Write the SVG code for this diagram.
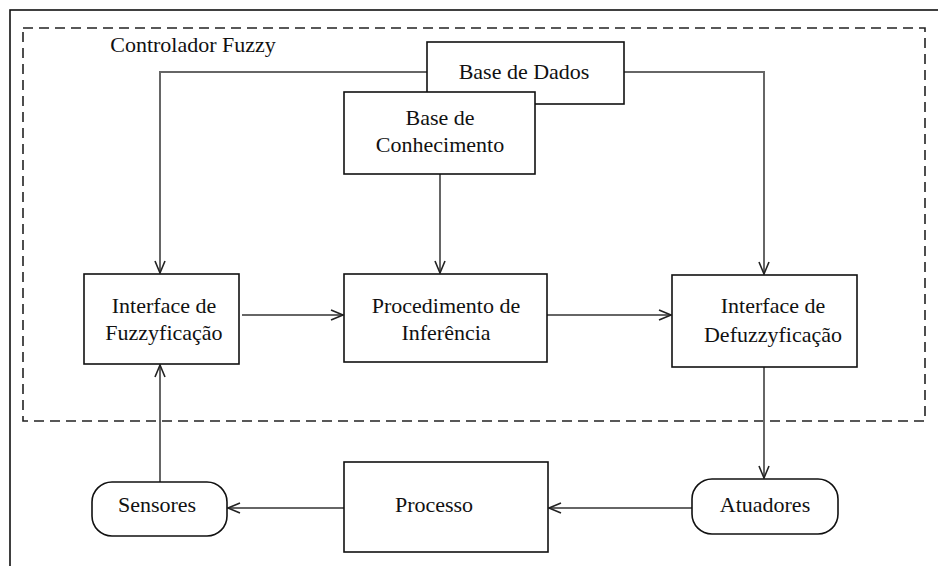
<svg xmlns="http://www.w3.org/2000/svg" width="938" height="566" viewBox="0 0 938 566">
  <style>
    .box { fill: #fff; stroke: #111; stroke-width: 1.6; }
    .lbl { font-family: "Liberation Serif", "Times New Roman", serif; font-size: 22px; fill: #111; text-anchor: middle; }
    .conn { fill: none; stroke: #666; stroke-width: 2; }
  </style>
  <defs>
    <marker id="arrow" markerUnits="userSpaceOnUse" markerWidth="16" markerHeight="14" refX="13" refY="6" orient="auto">
      <path d="M1,1 L13,6 L1,11" fill="none" stroke="#222" stroke-width="1.6"/>
    </marker>
  </defs>

  <rect x="0" y="0" width="938" height="566" fill="#fff"/>
  <!-- outer frame -->
  <rect x="10" y="10" width="940" height="570" fill="none" stroke="#111" stroke-width="1.6"/>

  <!-- controller boundary -->
  <g id="controlador">
    <rect x="23" y="28" width="902" height="393" fill="none" stroke="#222" stroke-width="1.6" stroke-dasharray="10 6"/>
    <text class="lbl" x="193" y="52">Controlador Fuzzy</text>
  </g>

  <!-- connectors -->
  <g id="connectors">
    <polyline class="conn" points="427,72 160,72 160,273" marker-end="url(#arrow)"/>
    <polyline class="conn" points="624,72 764,72 764,274" marker-end="url(#arrow)"/>
    <line class="conn" x1="440" y1="174" x2="440" y2="273" marker-end="url(#arrow)"/>
    <line class="conn" x1="242" y1="315" x2="343" y2="315" marker-end="url(#arrow)"/>
    <line class="conn" x1="547" y1="315" x2="671" y2="315" marker-end="url(#arrow)"/>
    <line class="conn" x1="764" y1="367" x2="764" y2="478" marker-end="url(#arrow)"/>
    <line class="conn" x1="692" y1="508" x2="549" y2="508" marker-end="url(#arrow)"/>
    <line class="conn" x1="344" y1="508" x2="228" y2="508" marker-end="url(#arrow)"/>
    <line class="conn" x1="160" y1="482" x2="160" y2="365" marker-end="url(#arrow)"/>
  </g>

  <g id="base-dados">
    <rect class="box" x="427" y="42" width="197" height="62"/>
    <text class="lbl" x="524" y="79">Base de Dados</text>
  </g>

  <g id="base-conhecimento">
    <rect class="box" x="344" y="92" width="191" height="82"/>
    <text class="lbl" x="440" y="125">Base de</text>
    <text class="lbl" x="440" y="152">Conhecimento</text>
  </g>

  <g id="fuzzyficacao">
    <rect class="box" x="84" y="274" width="155" height="90"/>
    <text class="lbl" x="164" y="313">Interface de</text>
    <text class="lbl" x="164" y="340">Fuzzyficação</text>
  </g>

  <g id="inferencia">
    <rect class="box" x="344" y="274" width="203" height="88"/>
    <text class="lbl" x="446" y="313">Procedimento de</text>
    <text class="lbl" x="446" y="340">Inferência</text>
  </g>

  <g id="defuzzyficacao">
    <rect class="box" x="672" y="275" width="185" height="92"/>
    <text class="lbl" x="773" y="313">Interface de</text>
    <text class="lbl" x="773" y="342">Defuzzyficação</text>
  </g>

  <g id="atuadores">
    <rect class="box" x="692" y="479" width="146" height="55" rx="20" ry="20"/>
    <text class="lbl" x="765" y="512">Atuadores</text>
  </g>

  <g id="processo">
    <rect class="box" x="344" y="462" width="204" height="90"/>
    <text class="lbl" x="434" y="512">Processo</text>
  </g>

  <g id="sensores">
    <rect class="box" x="92" y="482" width="135" height="54" rx="20" ry="20"/>
    <text class="lbl" x="157" y="512">Sensores</text>
  </g>
</svg>
